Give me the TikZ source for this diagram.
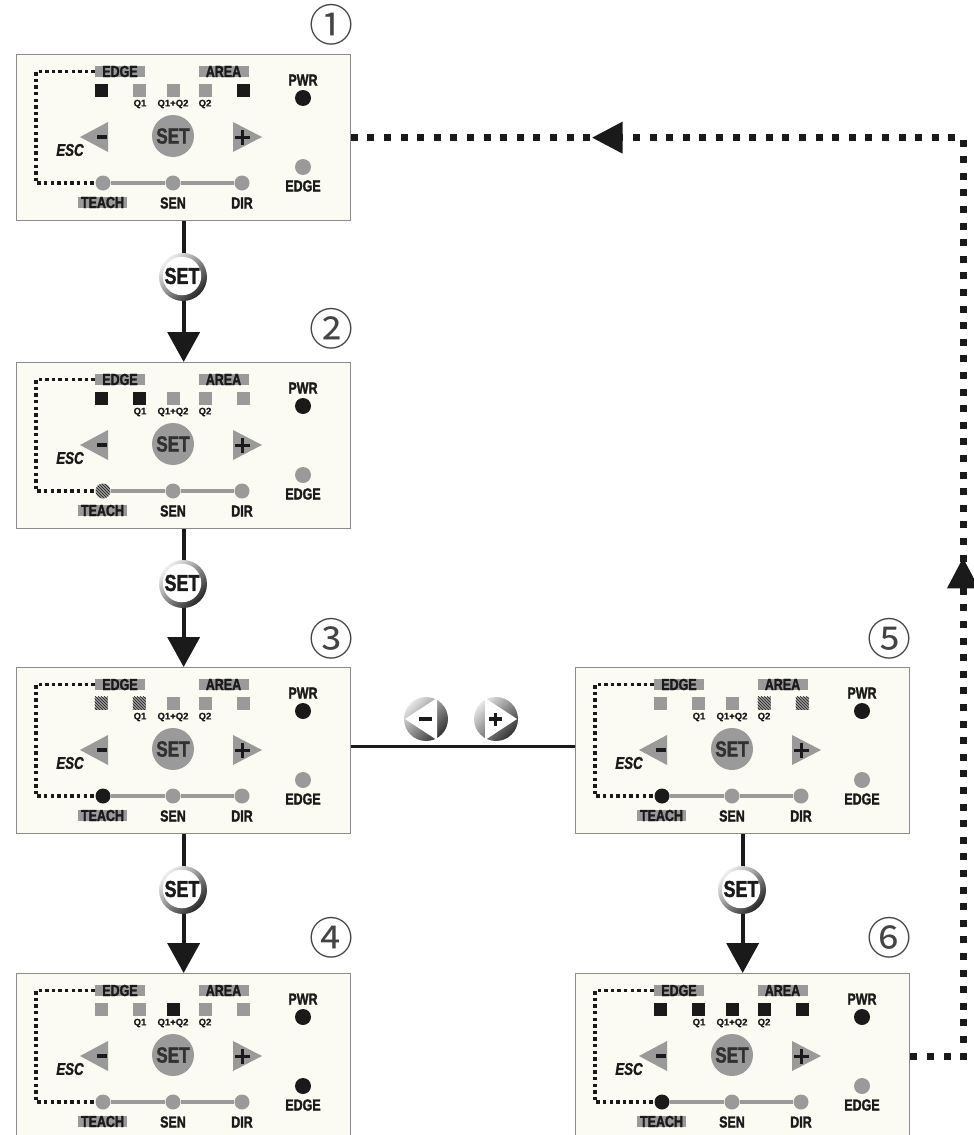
\documentclass[tikz,border=0pt]{standalone}
\usepackage{fontspec}
\setmainfont{Liberation Sans}[FakeStretch=0.78, BoldFeatures={FakeBold=1.5}, BoldItalicFeatures={FakeBold=1.5}]
\newfontfamily\plainsans{Liberation Sans}[BoldFeatures={FakeBold=1}]
\newfontfamily\cjkfont{Noto Sans CJK SC}
\usetikzlibrary{arrows.meta,patterns,decorations.markings}

\definecolor{cream}{HTML}{FBFBF4}
\definecolor{frame}{HTML}{8C8C8C}
\definecolor{ledgray}{HTML}{9A9A9A}
\definecolor{ink}{HTML}{1A1A1A}
\definecolor{numgray}{HTML}{444444}

\tikzset{
 panel/.style={draw=frame, line width=1.3pt, fill=cream, minimum width=334pt, minimum height=166pt, inner sep=0pt, anchor=north west},
 lbl/.style={fill=ledgray, text=ink, font=\bfseries\fontsize{16}{16}\selectfont, inner sep=0pt, minimum width=50pt, minimum height=11.5pt},
 txt/.style={text=ink, font=\bfseries\fontsize{16}{16}\selectfont, inner sep=0pt},
 qtxt/.style={text=ink, font=\plainsans\bfseries\fontsize{9.5}{9.5}\selectfont, inner sep=0pt},
 sqr/.style={minimum size=13pt, inner sep=0pt},
 ledon/.style={fill=ink},
 ledoff/.style={fill=ledgray},
 ledhatch/.style={fill=ledgray, postaction={pattern=north west lines, pattern color=ink}},
 led/.style={circle, minimum size=15pt, inner sep=0pt},
 setkey/.style={circle, fill=ledgray, minimum size=42pt, inner sep=0pt, text=ink!90, font=\bfseries\fontsize{22}{22}\selectfont},
 dotbr/.style={draw=ink, line width=3.4pt, dash pattern=on 3.4pt off 3.2pt},
 flowarrow/.style={draw=ink, line width=4pt, -{Triangle[width=32pt,length=30pt]}},
 btnring/.style={circle, minimum size=48pt, inner sep=0pt, top color=black!6, bottom color=black!85, shading angle=45},
 btnface/.style={circle, fill=white, minimum size=37pt, inner sep=0pt, text=ink, font=\bfseries\fontsize{23}{23}\selectfont},
 pmring/.style={circle, minimum size=44pt, inner sep=0pt, top color=black!10, bottom color=black!80, shading angle=45},
 num/.style={text=numgray, font=\cjkfont\fontsize{44}{44}\selectfont, inner sep=0pt},
 loopdots/.style={draw=ink, line width=7pt, dash pattern=on 7pt off 9.6pt},
}

% #1 prefix, #2-#6 squares, #7 teach LED, #8 edge LED
\newcommand\panelbody[8]{%
 \node[lbl] (#1-edgelbl) at (104,17.5) {EDGE};
 \node[lbl] (#1-arealbl) at (207.5,17.5) {AREA};
 \node[sqr,#2] (#1-s1) at (85,36) {};
 \node[sqr,#3] (#1-s2) at (123,36) {};
 \node[sqr,#4] (#1-s3) at (157,36) {};
 \node[sqr,#5] (#1-s4) at (189,36) {};
 \node[sqr,#6] (#1-s5) at (227,36) {};
 \node[qtxt] (#1-q1) at (124,50) {Q1};
 \node[qtxt] (#1-q12) at (157,50) {Q1+Q2};
 \node[qtxt] (#1-q2) at (189,50) {Q2};
 \node[txt] (#1-pwr) at (287,26) {PWR};
 \node[led, ledon, minimum size=16pt] (#1-pwrled) at (287,44) {};
 \fill[ledgray] (64,83) -- (92,68) -- (92,98) -- cycle;
 \draw[ink, line width=3.8pt] (81,83) -- (91,83);
 \node[setkey] (#1-set) at (157,82) {SET};
 \fill[ledgray] (217,68) -- (246,83) -- (217,98) -- cycle;
 \draw[ink, line width=3.8pt] (219,83.5) -- (234,83.5) (226.5,76) -- (226.5,91);
 \node[txt, font=\bfseries\itshape\fontsize{17}{17}\selectfont] (#1-esc) at (54,96) {ESC};
 \node[led, #8, minimum size=16pt] (#1-edgeled) at (287,113) {};
 \node[txt] (#1-edgetxt) at (287,132) {EDGE};
 \node[led, #7] (#1-teach) at (87,129) {};
 \node[led, ledoff] (#1-sen) at (157,129) {};
 \node[led, ledoff] (#1-dir) at (226,129) {};
 \draw[ledgray, line width=3.5pt] (#1-teach) -- (#1-sen) (#1-sen) -- (#1-dir);
 \draw[dotbr] (#1-edgelbl.west) -| (20,129) -- (#1-teach.west);
 \node[lbl, minimum width=49pt] (#1-teachlbl) at (86.5,148.5) {TEACH};
 \node[txt] (#1-sentxt) at (157,149) {SEN};
 \node[txt] (#1-dirtxt) at (226,149) {DIR};
}

\begin{document}
\begin{tikzpicture}[x=1pt,y=-1pt]
\useasboundingbox[fill=white] (0,0) rectangle (974,1135);

% panels
\node[panel] (p1) at (16,54) {};
\node[panel] (p2) at (16,362) {};
\node[panel] (p3) at (16,667) {};
\node[panel] (p4) at (16,973) {};
\node[panel] (p5) at (575,667) {};
\node[panel] (p6) at (575,973) {};

\begin{scope}[shift={(p1.north west)}]
 \panelbody{p1}{ledon}{ledoff}{ledoff}{ledoff}{ledon}{ledoff}{ledoff}
\end{scope}
\begin{scope}[shift={(p2.north west)}]
 \panelbody{p2}{ledon}{ledon}{ledoff}{ledoff}{ledoff}{ledhatch}{ledoff}
\end{scope}
\begin{scope}[shift={(p3.north west)}]
 \panelbody{p3}{ledhatch}{ledhatch}{ledoff}{ledoff}{ledoff}{ledon}{ledoff}
\end{scope}
\begin{scope}[shift={(p4.north west)}]
 \panelbody{p4}{ledoff}{ledoff}{ledon}{ledoff}{ledoff}{ledoff}{ledon}
\end{scope}
\begin{scope}[shift={(p5.north west)}]
 \panelbody{p5}{ledoff}{ledoff}{ledoff}{ledhatch}{ledhatch}{ledon}{ledoff}
\end{scope}
\begin{scope}[shift={(p6.north west)}]
 \panelbody{p6}{ledon}{ledon}{ledon}{ledon}{ledon}{ledon}{ledoff}
\end{scope}

% step numbers
\node[num] (n1) at (331,25) {①};
\node[num] (n2) at (331,329) {②};
\node[num] (n3) at (331,639) {③};
\node[num] (n4) at (331,938) {④};
\node[num] (n5) at (889,639) {⑤};
\node[num] (n6) at (889,938) {⑥};

% flow connectors
\draw[flowarrow] (p1.south) -- (p2.north);
\draw[flowarrow] (p2.south) -- (p3.north);
\draw[flowarrow] (p3.south) -- (p4.north);
\draw[flowarrow] (p5.south) -- (p6.north);

\foreach \nm/\px/\py in {b1/183/277, b2/183/584, b3/183/890, b4/742/890}{
 \node[btnring] (\nm-ring) at (\px,\py) {};
 \node[btnface] (\nm) at ([xshift=-1pt,yshift=1pt]\nm-ring.center) {SET};
}

% minus / plus link
\draw[ink, line width=3.2pt] ([yshift=4pt]p3.east) -- ([yshift=4pt]p5.west);
\node[pmring] (bm) at (426,719) {};
\node[pmring] (bp) at (496,719) {};
\fill[white] (405,719) -- (437,698) -- (437,740) -- cycle;
\draw[ink, line width=3.5pt] (419,719) -- (432,719);
\fill[white] (517,719) -- (485,698) -- (485,740) -- cycle;
\draw[ink, line width=3.5pt] (489,719) -- (502,719) (495.5,712.5) -- (495.5,725.5);

% return loop
\coordinate (rx) at (963,0);
\draw[loopdots, postaction={decorate}, decoration={markings,
   mark=at position 552pt with {\arrow{Triangle[width=30pt,length=31pt]}},
   mark=at position 1343pt with {\arrow{Triangle[width=30pt,length=31pt]}}}]
  (p6.east) -- (p6.east -| rx) -- (p1.east -| rx) -- (p1.east);
\end{tikzpicture}
\end{document}
